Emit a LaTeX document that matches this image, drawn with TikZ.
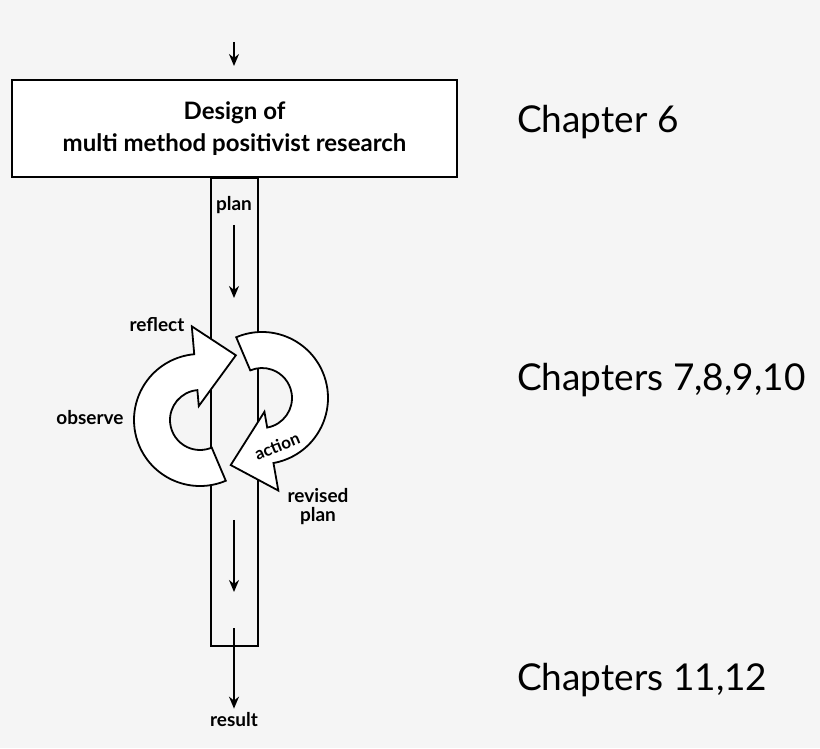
\documentclass[tikz,border=0pt]{standalone}
\usepackage{fontspec}
\setmainfont{Lato}
\usetikzlibrary{arrows.meta,positioning,calc}
% one broad circular arrow: center, start angle, end angle, tip angle
\newcommand{\cyclearrow}[4]{%
  \draw[cyc] (#1)+(#2:66) arc[start angle=#2, end angle=#3, radius=66]
    -- ($(#1)+(#3:94)$) -- ($(#1)+(#4:74)$) -- ($(#1)+(#3:14)$)
    -- ($(#1)+(#3:30)$) arc[start angle=#3, end angle=#2, radius=30] -- cycle;}
\begin{document}
\begin{tikzpicture}[
	x=1pt, y=1pt,
	line width=1.8pt,
	font=\fontsize{19}{21}\selectfont\bfseries,
	arr/.style={-{Stealth[length=12pt,width=10pt]}},
	cyc/.style={fill=white,line width=1.8pt,line join=miter},
	chap/.style={anchor=west,font=\fontsize{37}{40}\selectfont},
	]
\useasboundingbox[fill=white!96!black] (0,0) rectangle (820,748);
% column and box
\node (column) [draw,minimum width=47,minimum height=468,anchor=north] at (234.5,571) {};
\node (design) [draw,fill=white,minimum width=445,minimum height=97,align=center,
	font=\fontsize{24}{32}\selectfont\bfseries] at (234.5,619.5)
	{Design of\\multi method positivist research};
\coordinate (in) at (234,706);
\draw[arr] (in) -- (234,682);
\node (plan) [fill=white!96!black,inner sep=1pt] at (234,543) {plan};
\draw[arr] (234,523) -- (234,450);
% cycle
\coordinate (cl) at (200,328);
\coordinate (cr) at (262,350);
\cyclearrow{cl}{-67}{-265}{-299}
\cyclearrow{cr}{113}{-80}{-115}
\node (reflect) at (157,423) {reflect};
\node (observe) at (90,330) {observe};
\node (action) [rotate=22,font=\fontsize{17}{19}\selectfont\bfseries] at (277,302) {action};
\node (revised) [align=center] at (318,241) {revised\\[-2pt]plan};
\draw[arr] (234,228) -- (234,156);
\coordinate (out) at (234,120);
\node (result) at (234,28) {result};
\draw[arr] (out) -- (result.north);
% chapters
\node (ch6) [chap] at (513,626) {Chapter 6};
\node (ch7) [chap] at (513,368) {Chapters 7,8,9,10};
\node (ch11) [chap] at (513,68) {Chapters 11,12};
\end{tikzpicture}
\end{document}
